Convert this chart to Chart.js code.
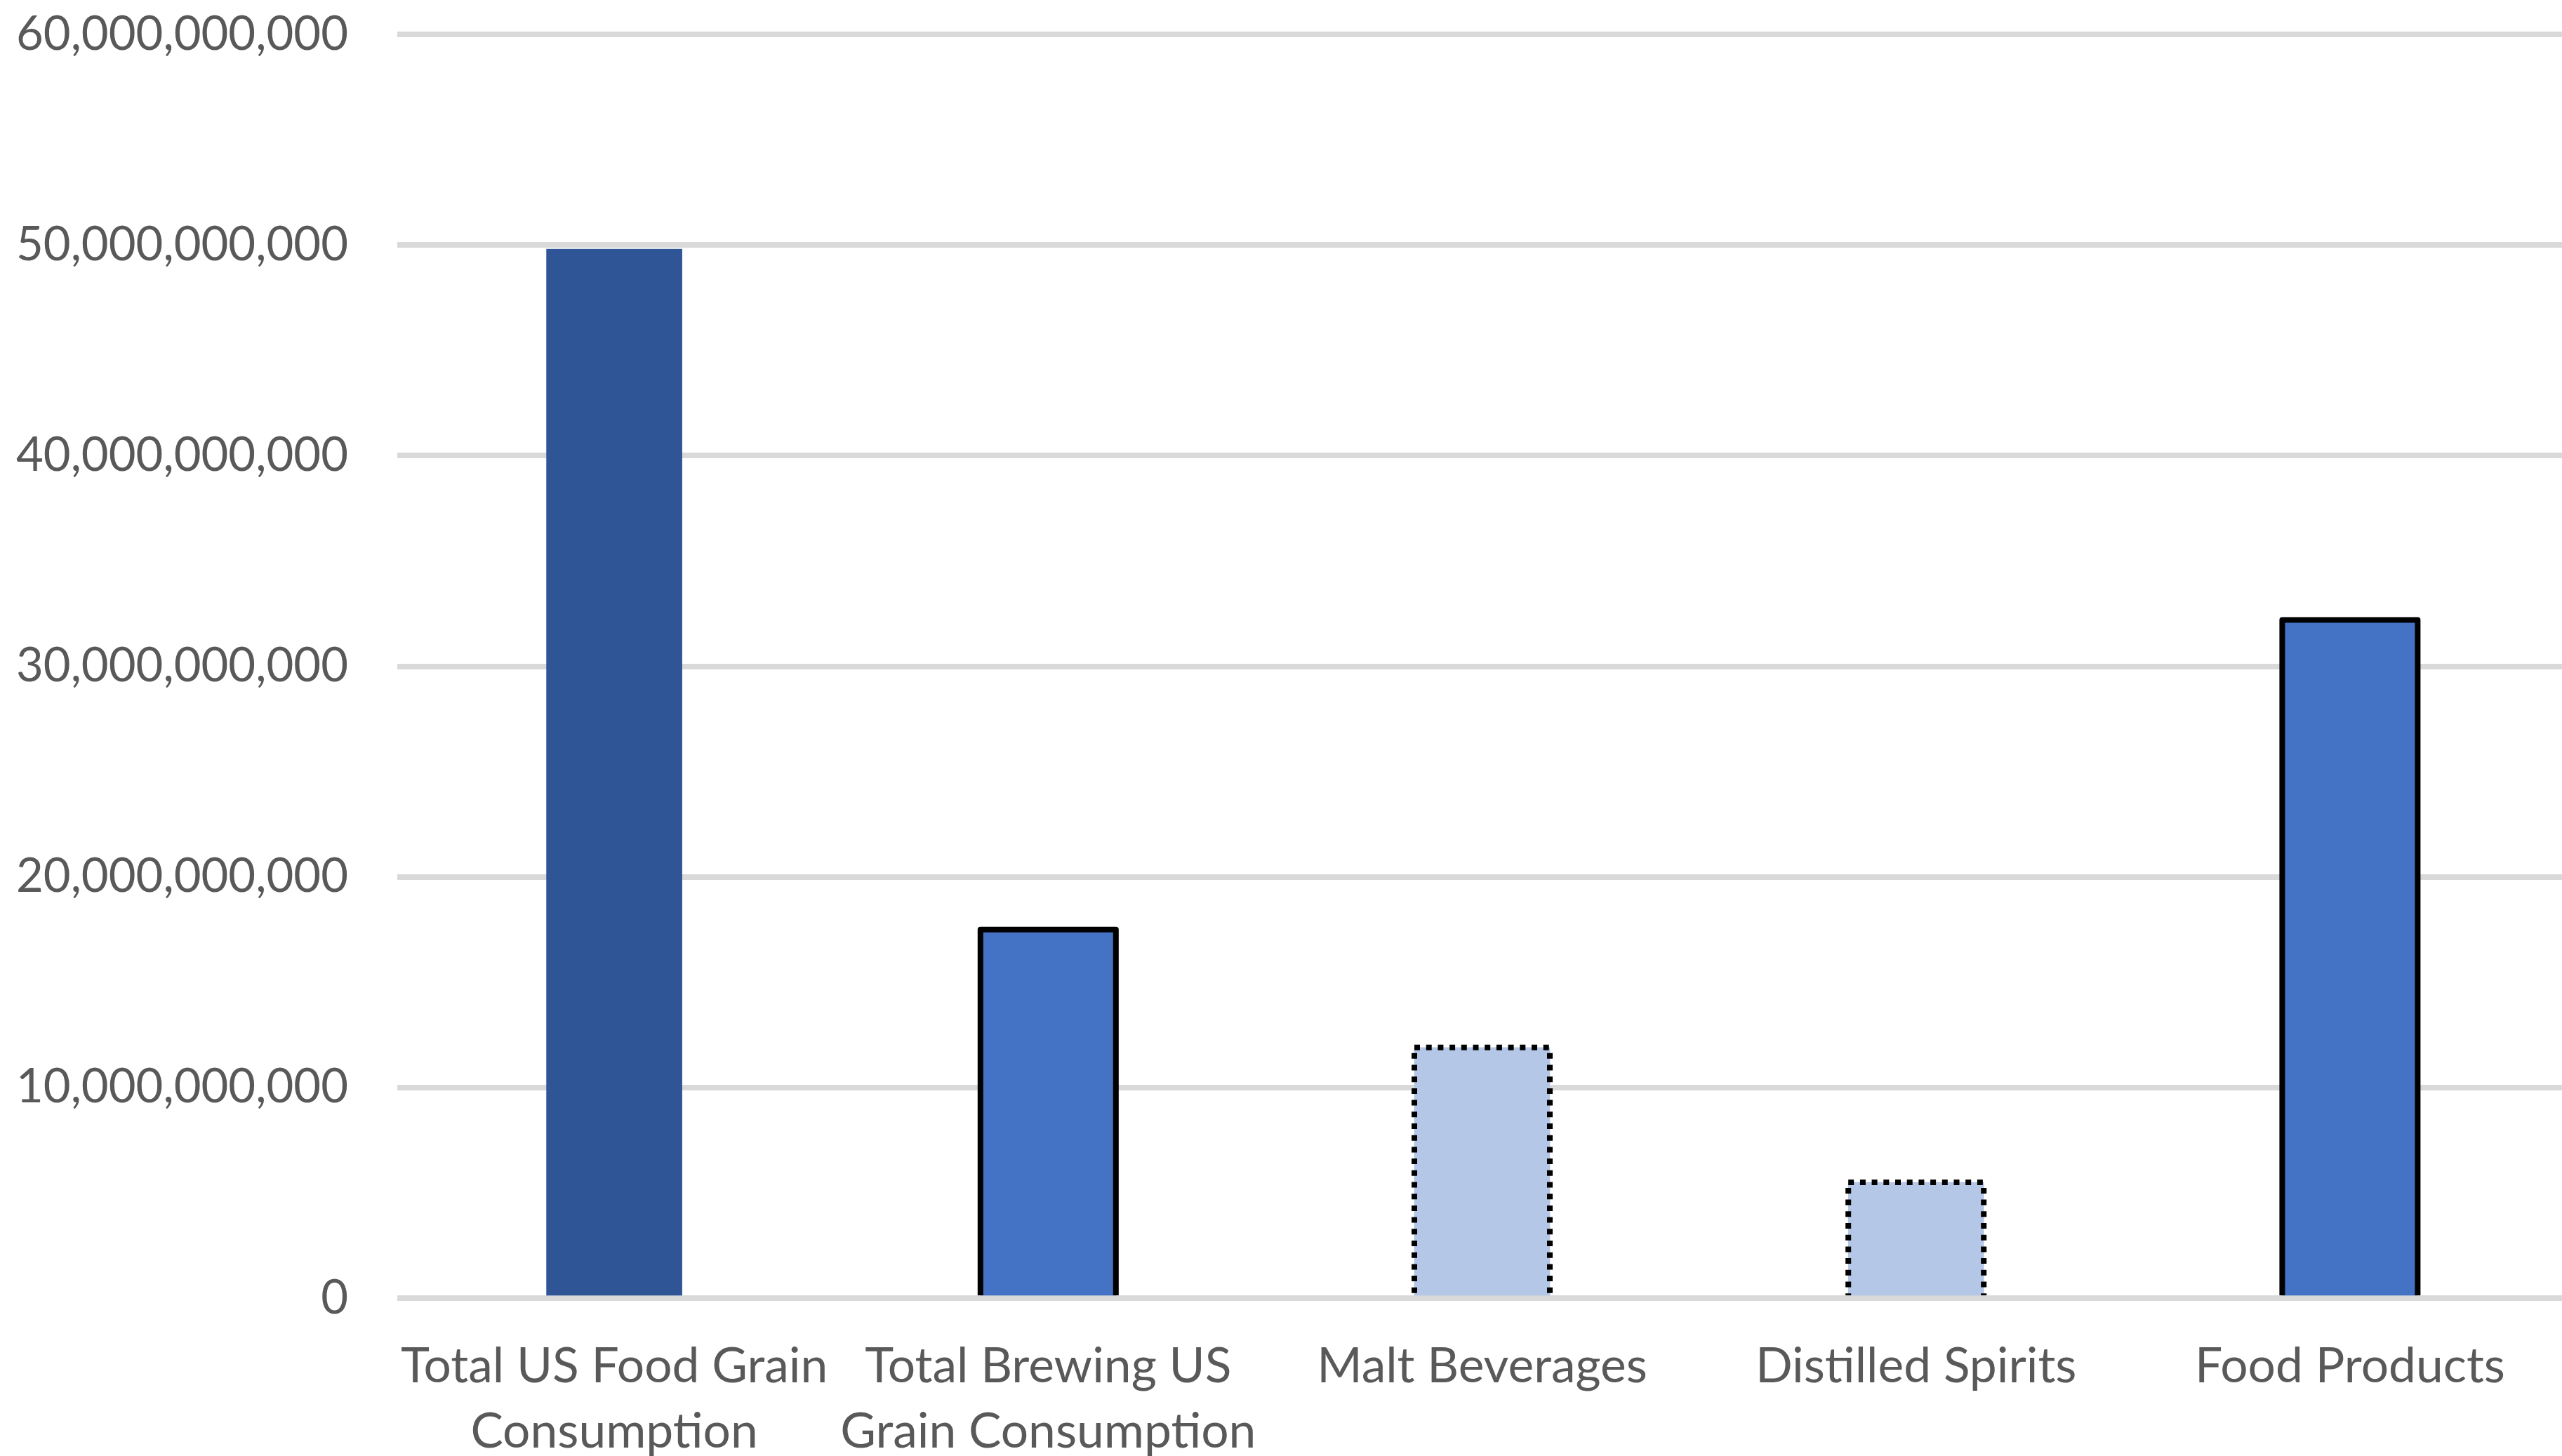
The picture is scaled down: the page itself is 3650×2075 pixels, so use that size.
<!DOCTYPE html>
<html>
<head>
<meta charset="utf-8">
<script src="https://cdn.jsdelivr.net/npm/chart.js@4"></script>
<style>
  html, body { margin: 0; padding: 0; background: #ffffff; overflow: hidden; }
  #wrap { width: 3650px; height: 2075px; overflow: hidden; }
  canvas { display: block; }
</style>
</head>
<body>
<div id="wrap"><canvas id="chart" width="3660" height="2075"></canvas></div>
<script>
// Grain consumption by use
const categories = [
  ['Total US Food Grain', 'Consumption'],
  ['Total Brewing US', 'Grain Consumption'],
  'Malt Beverages',
  'Distilled Spirits',
  'Food Products'
];
const consumption = [49.8e9, 17.5e9, 11.9e9, 5.5e9, 32.2e9];
const yTicks = [0, 10e9, 20e9, 30e9, 40e9, 50e9, 60e9];

const fillColors = ['#2F5597', '#4472C4', '#B4C7E7', '#B4C7E7', '#4472C4'];
const outlineStyles = ['none', 'solid', 'dotted', 'dotted', 'solid'];

const TEXT = '#595959';
const FONT = 'Lato';

// Outlines drawn on top of the bars, centred on the bar edges (bottom edge left open)
const barOutline = {
  id: 'barOutline',
  afterDatasetsDraw(chart) {
    const ctx = chart.ctx;
    const meta = chart.getDatasetMeta(0);
    meta.data.forEach((bar, i) => {
      const style = outlineStyles[i];
      if (style === 'none') return;
      const { x, y, base, width } = bar.getProps(['x', 'y', 'base', 'width'], true);
      const l = x - width / 2, r = x + width / 2;
      ctx.save();
      ctx.strokeStyle = '#000000';
      ctx.lineWidth = 8;
      if (style === 'solid') {
        ctx.lineJoin = 'round';
        ctx.beginPath();
        ctx.moveTo(l, base);
        ctx.lineTo(l, y);
        ctx.lineTo(r, y);
        ctx.lineTo(r, base);
        ctx.stroke();
      } else {
        ctx.lineCap = 'butt';
        ctx.setLineDash([8, 8.7]);
        ctx.beginPath();
        ctx.moveTo(l, y);
        ctx.lineTo(r + 4, y);
        ctx.stroke();
        ctx.beginPath();
        ctx.moveTo(l, y + 8);
        ctx.lineTo(l, base);
        ctx.stroke();
        ctx.beginPath();
        ctx.moveTo(r, y + 8);
        ctx.lineTo(r, base);
        ctx.stroke();
      }
      ctx.restore();
    });
  }
};

new Chart(document.getElementById('chart'), {
  type: 'bar',
  data: {
    labels: categories,
    datasets: [{
      data: consumption,
      backgroundColor: fillColors,
      borderWidth: 0,
      barThickness: 193
    }]
  },
  options: {
    responsive: false,
    devicePixelRatio: 1,
    animation: false,
    events: [],
    layout: { padding: { top: 49, right: 3, bottom: 0, left: 0 } },
    plugins: {
      legend: { display: false },
      title: { display: false },
      tooltip: { enabled: false }
    },
    scales: {
      x: {
        grid: { display: false, drawTicks: false },
        border: { display: false },
        ticks: {
          color: TEXT,
          padding: 51,
          maxRotation: 0,
          autoSkip: false,
          font: { family: FONT, size: 69.5, lineHeight: 93 / 69.5 }
        },
        afterFit(scale) { scale.height = 225; }
      },
      y: {
        min: 0,
        max: 60e9,
        afterBuildTicks(scale) { scale.ticks = yTicks.map(v => ({ value: v })); },
        grid: { color: '#D9D9D9', lineWidth: 8, drawTicks: false },
        border: { display: false },
        ticks: {
          color: TEXT,
          padding: 70,
          font: { family: FONT, size: 67 },
          callback: v => Number(v).toLocaleString('en-US')
        },
        afterFit(scale) {
          scale.width = 566;
          scale.paddingTop = 0;
          scale.paddingBottom = 0;
        }
      }
    }
  },
  plugins: [barOutline]
});
</script>
</body>
</html>
